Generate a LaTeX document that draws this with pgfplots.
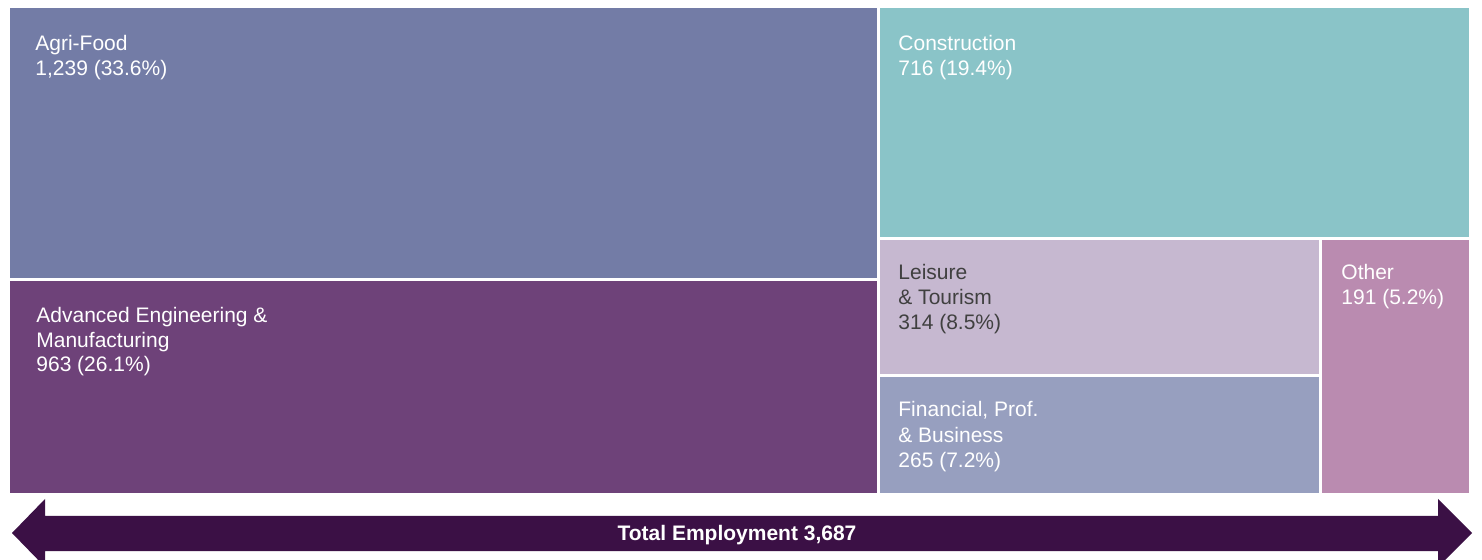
\documentclass[border=0pt]{standalone}
\usepackage{pgfplots}
\pgfplotsset{compat=1.18}
\usepackage{fontspec}
\setmainfont{Liberation Sans}
\definecolor{cAgri}{HTML}{737CA6}
\definecolor{cAdv}{HTML}{6E4279}
\definecolor{cCons}{HTML}{8AC4C8}
\definecolor{cLeis}{HTML}{C6B8D0}
\definecolor{cFin}{HTML}{979FBF}
\definecolor{cOth}{HTML}{BA8BB0}
\definecolor{cArrow}{HTML}{3B1045}
\definecolor{cDark}{HTML}{404040}
\tikzset{lbl/.style={anchor=base west, inner sep=0pt, font=\fontsize{10.5}{12}\selectfont}}
\begin{document}
\begin{tikzpicture}
\begin{axis}[
  width=741pt, height=280pt, scale only axis,
  xmin=0, xmax=1482, ymin=0, ymax=560, y dir=reverse,
  hide axis,
]
% background
\addplot[fill=white, draw=none] coordinates {(0,0)(1482,0)(1482,560)(0,560)} --cycle;
% Agri-Food 1,239
\addplot[fill=cAgri, draw=none] coordinates {(10,8)(877,8)(877,278)(10,278)} --cycle;
% Advanced Engineering & Manufacturing 963
\addplot[fill=cAdv, draw=none] coordinates {(10,281)(877,281)(877,493)(10,493)} --cycle;
% Construction 716
\addplot[fill=cCons, draw=none] coordinates {(880,8)(1469,8)(1469,237)(880,237)} --cycle;
% Leisure & Tourism 314
\addplot[fill=cLeis, draw=none] coordinates {(880,240)(1319,240)(1319,374)(880,374)} --cycle;
% Financial, Prof. & Business 265
\addplot[fill=cFin, draw=none] coordinates {(880,377)(1319,377)(1319,493)(880,493)} --cycle;
% Other 191
\addplot[fill=cOth, draw=none] coordinates {(1322,240)(1469,240)(1469,493)(1322,493)} --cycle;
% Arrow: total employment 3,687
\addplot[fill=cArrow, draw=none] coordinates {
  (12,533)(45,499)(45,516)(1438,516)(1438,499)(1472,533)(1438,567)(1438,551)(45,551)(45,567)} --cycle;

\node[lbl, text=white] at (axis cs:35,51) {Agri-Food};
\node[lbl, text=white] at (axis cs:35,76) {1,239 (33.6\%)};

\node[lbl, text=white] at (axis cs:36,323) {Advanced Engineering \&};
\node[lbl, text=white] at (axis cs:36,347.5) {Manufacturing};
\node[lbl, text=white] at (axis cs:36,372) {963 (26.1\%)};

\node[lbl, text=white] at (axis cs:898,51) {Construction};
\node[lbl, text=white] at (axis cs:898,75.5) {716 (19.4\%)};

\node[lbl, text=cDark] at (axis cs:898,279.5) {Leisure};
\node[lbl, text=cDark] at (axis cs:898,304.5) {\& Tourism};
\node[lbl, text=cDark] at (axis cs:898,330) {314 (8.5\%)};

\node[lbl, text=white] at (axis cs:898,417) {Financial, Prof.};
\node[lbl, text=white] at (axis cs:898,442.5) {\& Business};
\node[lbl, text=white] at (axis cs:898,468) {265 (7.2\%)};

\node[lbl, text=white] at (axis cs:1341,279.5) {Other};
\node[lbl, text=white] at (axis cs:1341,304.5) {191 (5.2\%)};

\node[anchor=base, inner sep=0pt, text=white, font=\fontsize{10.5}{12}\selectfont\bfseries] at (axis cs:737,540) {Total Employment 3,687};
\end{axis}
\end{tikzpicture}
\end{document}
